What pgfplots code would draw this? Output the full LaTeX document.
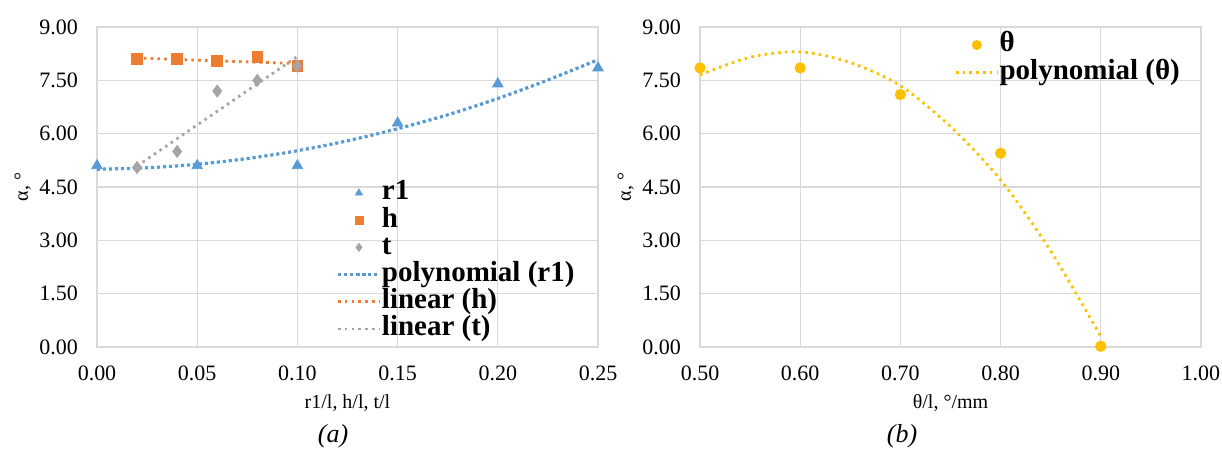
\documentclass[border=0pt]{standalone}
\usepackage{pgfplots}
\pgfplotsset{compat=1.18}
\usepackage{fontspec}
\setmainfont{Liberation Serif}
\definecolor{cBlue}{HTML}{5B9BD5}
\definecolor{cOrange}{HTML}{ED7D31}
\definecolor{cGray}{HTML}{A5A5A5}
\definecolor{cYellow}{HTML}{FFC000}
\definecolor{cGrid}{HTML}{D9D9D9}

\pgfplotsset{
  panel/.style={
    scale only axis, width=250.5pt, height=160pt, anchor=south west,
    ymin=0, ymax=9, ytick={0,1.5,3,4.5,6,7.5,9},
    grid=major, grid style={cGrid, line width=0.6pt},
    axis line style={cGrid, line width=0.6pt},
    major tick length=0pt, scaled ticks=false,
    tick label style={font=\fontsize{11}{12}\selectfont,
      /pgf/number format/fixed, /pgf/number format/fixed zerofill,
      /pgf/number format/precision=2, /pgf/number format/assume math mode=true},
    xticklabel style={yshift=-6pt},
    yticklabel style={xshift=-6pt},
    label style={font=\fontsize{10}{12}\selectfont},
    xlabel style={at={(axis description cs:0.5,-0.175)}, anchor=center},
    ylabel style={at={(axis description cs:-0.148,0.5)}, anchor=center},
    legend cell align=left,
    legend style={draw=none, fill=none, font=\fontsize{14.5}{13}\selectfont\bfseries,
      nodes={inner sep=0.2pt, text height=10pt, text depth=3.2pt}},
    legend image code/.code={\draw[mark repeat=2,mark phase=2,##1] plot coordinates {(0pt,0pt)(10.5pt,0pt)(21pt,0pt)};},
  },
  sqdot/.style={line width=1.6pt, dash pattern=on 1.6pt off 1.4pt},
  rddot/.style={line width=1.4pt, dash pattern=on 1.3pt off 2.1pt},
}

\begin{document}
\begin{tikzpicture}
\path[use as bounding box] (0,0) rectangle (611pt,225pt);

\begin{axis}[panel, at={(48.5pt,51.5pt)},
  xmin=0, xmax=0.25, xtick={0,0.05,0.1,0.15,0.2,0.25},
  xlabel={r1/l, h/l, t/l}, ylabel={α, °},
  legend style={at={(axis description cs:0.465,0.0)}, anchor=south west}]
\addplot[only marks, mark=triangle*, mark size=3pt, color=cBlue,
  legend image post style={mark size=2pt}] coordinates {
  (0,5.1) (0.05,5.1) (0.10,5.1) (0.15,6.3) (0.20,7.4) (0.25,7.85)};
\addlegendentry{r1}
\addplot[only marks, mark=square*, mark size=2.7pt, color=cOrange,
  legend image post style={mark size=2pt}] coordinates {
  (0.02,8.1) (0.04,8.1) (0.06,8.05) (0.08,8.15) (0.10,7.9)};
\addlegendentry{h}
\addplot[only marks, mark=diamond*, mark size=3pt, color=cGray,
  legend image post style={mark size=2pt}] coordinates {
  (0.02,5.05) (0.04,5.5) (0.06,7.2) (0.08,7.5) (0.10,7.9)};
\addlegendentry{t}
\addplot[sqdot, color=cBlue, smooth] coordinates {
  (0,5.0) (0.025,5.04) (0.05,5.14) (0.075,5.3) (0.10,5.52) (0.125,5.8)
  (0.15,6.14) (0.175,6.53) (0.20,6.99) (0.225,7.51) (0.25,8.08)};
\addlegendentry{polynomial (r1)}
\addplot[rddot, color=cOrange] coordinates {(0.02,8.13) (0.10,7.97)};
\addlegendentry{linear (h)}
\addplot[rddot, color=cGray] coordinates {(0.02,5.09) (0.10,8.17)};
\addlegendentry{linear (t)}
\end{axis}

\begin{axis}[panel, at={(350pt,51.5pt)},
  xmin=0.5, xmax=1.0, xtick={0.5,0.6,0.7,0.8,0.9,1.0},
  xlabel={θ/l, °/mm}, ylabel={α, °},
  legend style={at={(axis description cs:0.495,1.0)}, anchor=north west}]
\addplot[only marks, mark=*, mark size=2.6pt, color=cYellow,
  legend image post style={mark size=2.3pt}] coordinates {
  (0.5,7.85) (0.6,7.85) (0.7,7.1) (0.8,5.45) (0.9,0.02)};
\addlegendentry{θ}
\addplot[rddot, color=cYellow, smooth] coordinates {
  (0.5,7.65) (0.55,8.15) (0.6,8.3) (0.65,8.0) (0.7,7.35) (0.75,6.2)
  (0.8,4.7) (0.85,2.7) (0.9,0.3)};
\addlegendentry{polynomial (θ)}
\end{axis}

\node[font=\fontsize{13}{14}\selectfont\itshape] at (166.5pt,7pt) {(a)};
\node[font=\fontsize{13}{14}\selectfont\itshape] at (451pt,7pt) {(b)};
\end{tikzpicture}
\end{document}
